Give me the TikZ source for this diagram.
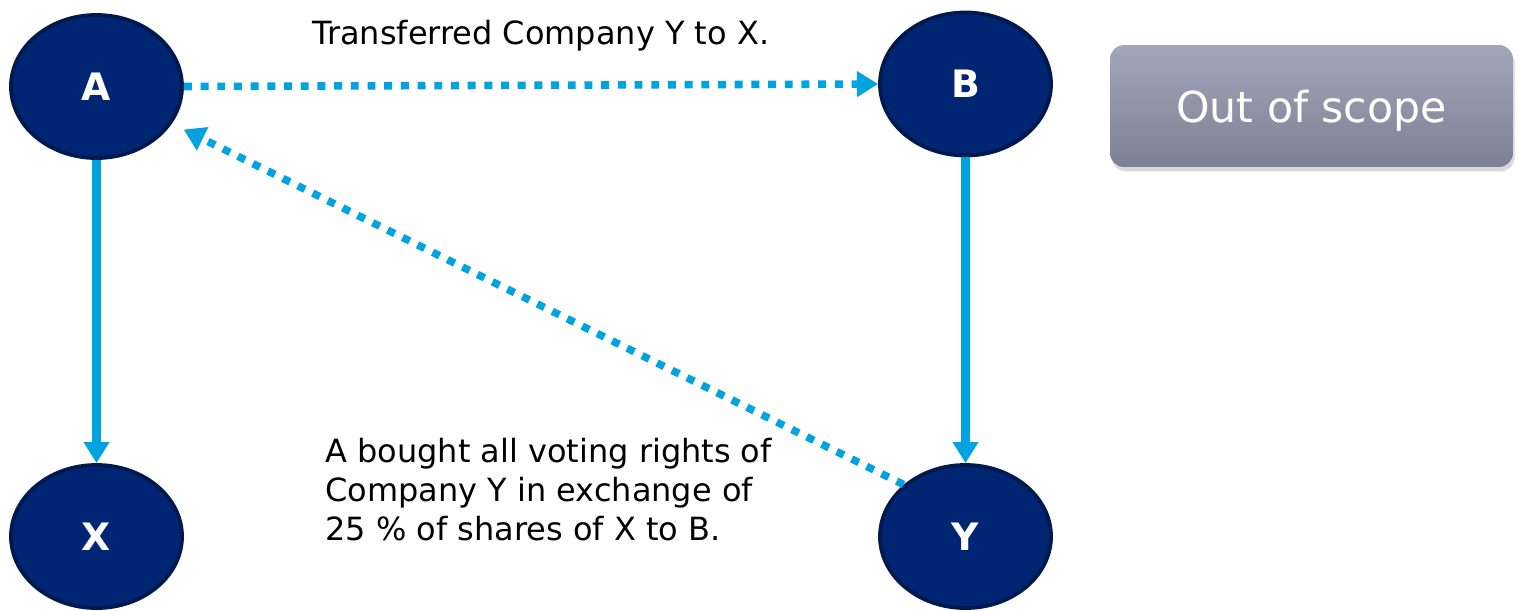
\documentclass[tikz,border=0pt]{standalone}
\usepackage{fontspec}
\setmainfont{DejaVu Sans}
\usetikzlibrary{arrows.meta,shapes.geometric,shadows}
\definecolor{navyfill}{HTML}{002673}
\definecolor{navyline}{HTML}{00194F}
\definecolor{linkblue}{HTML}{00A3E0}
\definecolor{boxtop}{HTML}{A3A5BA}
\definecolor{boxbot}{HTML}{7E8093}
\begin{document}
\begin{tikzpicture}[x=0.02cm,y=-0.02cm,
  party/.style={ellipse, draw=navyline, line width=2.2pt, fill=navyfill,
    minimum width=3.42cm, minimum height=2.86cm, inner sep=0pt,
    text=white, font=\fontsize{21.5}{26}\selectfont\bfseries},
  solidlink/.style={draw=linkblue, line width=4.6pt,
    -{Triangle[width=14pt,length=12pt]}},
  dottedlink/.style={draw=linkblue, line width=4.3pt,
    dash pattern=on 4.5pt off 5pt,
    -{Triangle[width=14pt,length=12pt]}},
  note/.style={font=\fontsize{18.2}{22}\selectfont, text=black, inner sep=0pt},
  scopebox/.style={rounded corners=8pt, top color=boxtop, bottom color=boxbot,
    draw=none, minimum width=8.06cm, minimum height=2.44cm,
    drop shadow={opacity=0.3, shadow xshift=1pt, shadow yshift=-2.5pt}},
  scopetext/.style={text=white, inner sep=0pt, font=\fontsize{24.3}{28}\selectfont}]
\useasboundingbox (0,0) rectangle (1518,610);

\node[party] (A) at (96.5,86.5) {A};
\node[party] (B) at (965.5,84) {B};
\node[party] (X) at (96.5,536.5) {X};
\node[party] (Y) at (965.5,536.5) {Y};

\draw[solidlink] (A) -- (X);
\draw[solidlink] (B) -- (Y);
\draw[dottedlink] (A.east) -- (B.west);
\draw[dottedlink, shorten >=7.5pt] (Y.140) -- (A);

\node[note, anchor=base west] (t1) at (312,44.3) {Transferred Company Y to X.};
% the base anchor of a multi-line node sits on its last line
\node[note, anchor=base west, align=left] (t2) at (325,540)
  {A bought all voting rights of\\Company Y in exchange of\\25 \% of shares of X to B.};

\node[scopebox] (scope) at (1311.5,106) {};
\node[scopetext, anchor=base] (scopelabel) at (1311.5,122) {Out of scope};
\end{tikzpicture}
\end{document}
